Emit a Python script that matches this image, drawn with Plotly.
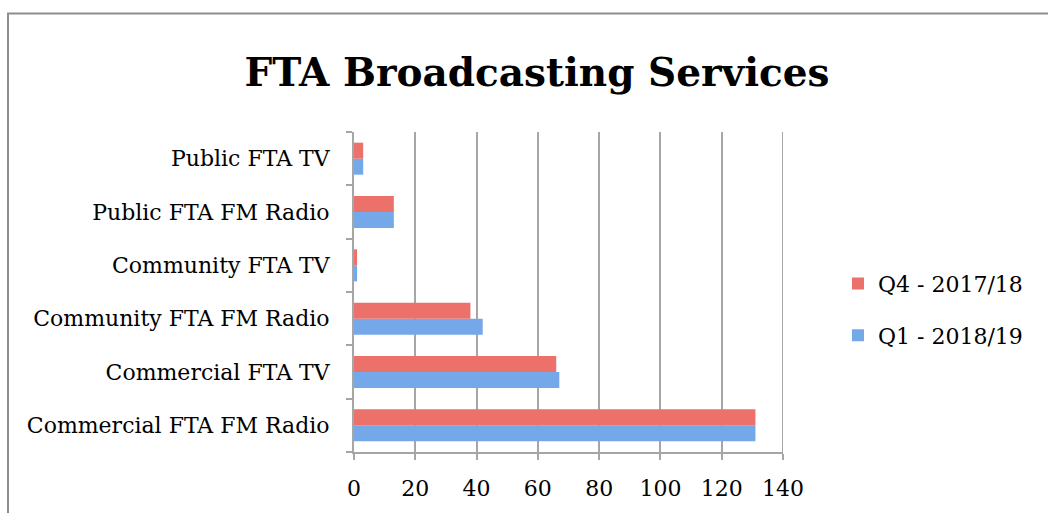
import plotly.graph_objects as go

categories = ["Commercial FTA FM Radio", "Commercial FTA TV", "Community FTA FM Radio",
              "Community FTA TV", "Public FTA FM Radio", "Public FTA TV"]
q1_2018_19 = [131, 67, 42, 1, 13, 3]
q4_2017_18 = [131, 66, 38, 1, 13, 3]
x_ticks = [0, 20, 40, 60, 80, 100, 120, 140]

FONT = "DejaVu Serif"
W, H = 1048, 513
L, R, T, B = 354, 783, 132, 456

fig = go.Figure()
fig.add_trace(go.Bar(y=categories, x=q1_2018_19, orientation="h", name="Q1 - 2018/19",
                     legendgroup="b", legendrank=2,
                     marker=dict(color="#74A8E8", line=dict(width=0))))
fig.add_trace(go.Bar(y=categories, x=q4_2017_18, orientation="h", name="Q4 - 2017/18",
                     legendgroup="a", legendrank=1,
                     marker=dict(color="#EC716B", line=dict(width=0))))

pw, ph = R - L, B - T
def px(x):
    return (x - L) / pw
def py(y):
    return (B - y) / ph

fig.add_shape(type="rect", xref="paper", yref="paper",
              x0=px(8), x1=px(1060), y0=py(12), y1=py(530),
              line=dict(color="#8E8E8E", width=2), fillcolor="rgba(0,0,0,0)", layer="below")
# last gridline at the end of the range
fig.add_shape(type="line", xref="x", yref="paper", x0=x_ticks[-1], x1=x_ticks[-1], y0=0, y1=1,
              line=dict(color="#A6A6A6", width=2), layer="below")

fig.update_layout(
    width=W, height=H,
    margin=dict(l=L, r=W - R, t=T, b=H - B, pad=0),
    paper_bgcolor="white", plot_bgcolor="white",
    barmode="group", bargap=0.4, bargroupgap=0,
    font=dict(family=FONT, size=20, color="black"),
    title=dict(text="<b>FTA Broadcasting Services</b>", x=537 / W, xanchor="center",
               y=1 - 72 / H, yanchor="middle", font=dict(family=FONT, size=39, color="black")),
    showlegend=True,
    legend=dict(traceorder="grouped", x=px(838), xanchor="left", y=py(312), yanchor="middle",
                font=dict(family=FONT, size=22), itemwidth=30, tracegroupgap=20,
                bgcolor="rgba(0,0,0,0)"),
    xaxis=dict(range=[0, 140], tickvals=x_ticks, showgrid=True, gridcolor="#A6A6A6", gridwidth=2,
               zeroline=False, showline=True, linecolor="#A6A6A6", linewidth=2,
               ticks="outside", ticklen=6, tickcolor="#A6A6A6", tickwidth=2,
               tickfont=dict(family=FONT, size=22), ticklabelstandoff=10),
    yaxis=dict(type="category", categoryorder="array", categoryarray=categories,
               showline=True, linecolor="#A6A6A6", linewidth=2, showgrid=False,
               ticks="outside", tickson="boundaries", ticklen=6, tickcolor="#A6A6A6", tickwidth=2,
               tickfont=dict(family=FONT, size=22), ticklabelstandoff=18),
)

fig.write_html("out.html")
